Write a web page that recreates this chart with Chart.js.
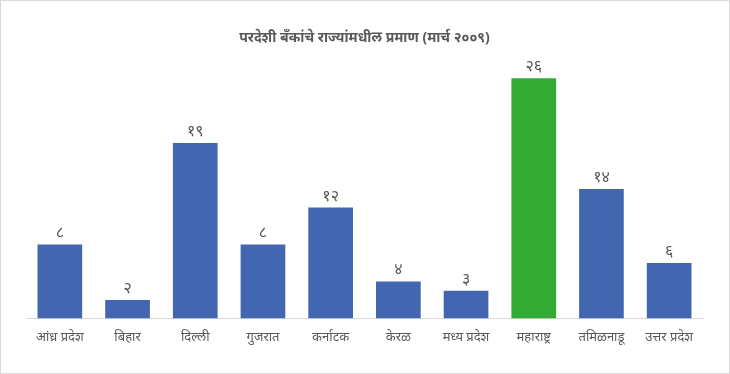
<!DOCTYPE html>
<html lang="mr">
<head>
    <meta charset="UTF-8">
    <title>परदेशी बँकांचे राज्यांमधील प्रमाण</title>
    <script src="https://cdn.jsdelivr.net/npm/chart.js"></script>
    <style>
        html, body { margin: 0; padding: 0; background: #fff; }
        .frame {
            box-sizing: border-box;
            width: 730px;
            height: 374px;
            border: 1px solid #d9d9d9;
        }
        canvas { display: block; }
    </style>
</head>
<body>
    <div class="frame">
        <canvas id="chart" width="728" height="372"></canvas>
    </div>

    <script>
        // Data
        const states = ['आंध्र प्रदेश', 'बिहार', 'दिल्ली', 'गुजरात', 'कर्नाटक', 'केरळ', 'मध्य प्रदेश', 'महाराष्ट्र', 'तमिळनाडू', 'उत्तर प्रदेश'];
        const bankCounts = [8, 2, 19, 8, 12, 4, 3, 26, 14, 6];
        const highlightState = 'महाराष्ट्र';
        const chartTitle = 'परदेशी बँकांचे राज्यांमधील प्रमाण (मार्च २००९)';

        const textColor = '#595959';
        const fontFamily = '"Noto Sans", "Liberation Sans", sans-serif';
        const devDigits = '०१२३४५६७८९';
        const toDev = n => String(n).replace(/[0-9]/g, d => devDigits[d]);

        // Value labels above the bars
        const valueLabels = {
            id: 'valueLabels',
            afterDatasetsDraw(chart) {
                const ctx = chart.ctx;
                const meta = chart.getDatasetMeta(0);
                ctx.save();
                ctx.fillStyle = textColor;
                ctx.font = '16px ' + fontFamily;
                ctx.textAlign = 'center';
                ctx.textBaseline = 'alphabetic';
                meta.data.forEach((bar, i) => {
                    ctx.fillText(toDev(bankCounts[i]), bar.x, bar.y - 7);
                });
                ctx.restore();
            }
        };

        new Chart(document.getElementById('chart'), {
            type: 'bar',
            data: {
                labels: states,
                datasets: [{
                    data: bankCounts,
                    backgroundColor: states.map(s => s === highlightState ? '#34ab35' : '#4267b0'),
                    borderWidth: 0,
                    categoryPercentage: 1,
                    barPercentage: 0.66
                }]
            },
            options: {
                responsive: false,
                animation: false,
                layout: {
                    padding: { left: 25, right: 26, bottom: 25, top: 0 }
                },
                scales: {
                    x: {
                        grid: { display: false },
                        border: { display: true, color: '#d9d9d9', width: 1 },
                        ticks: {
                            color: textColor,
                            font: { family: fontFamily, size: 13 },
                            padding: 3,
                            maxRotation: 0,
                            autoSkip: false
                        }
                    },
                    y: {
                        display: false,
                        min: 0,
                        max: 28
                    }
                },
                plugins: {
                    legend: { display: false },
                    tooltip: { enabled: false },
                    title: {
                        display: true,
                        text: chartTitle,
                        color: textColor,
                        font: { family: fontFamily, size: 14, weight: 'bold' },
                        padding: { top: 29, bottom: 13 }
                    }
                }
            },
            plugins: [valueLabels]
        });
    </script>
</body>
</html>
